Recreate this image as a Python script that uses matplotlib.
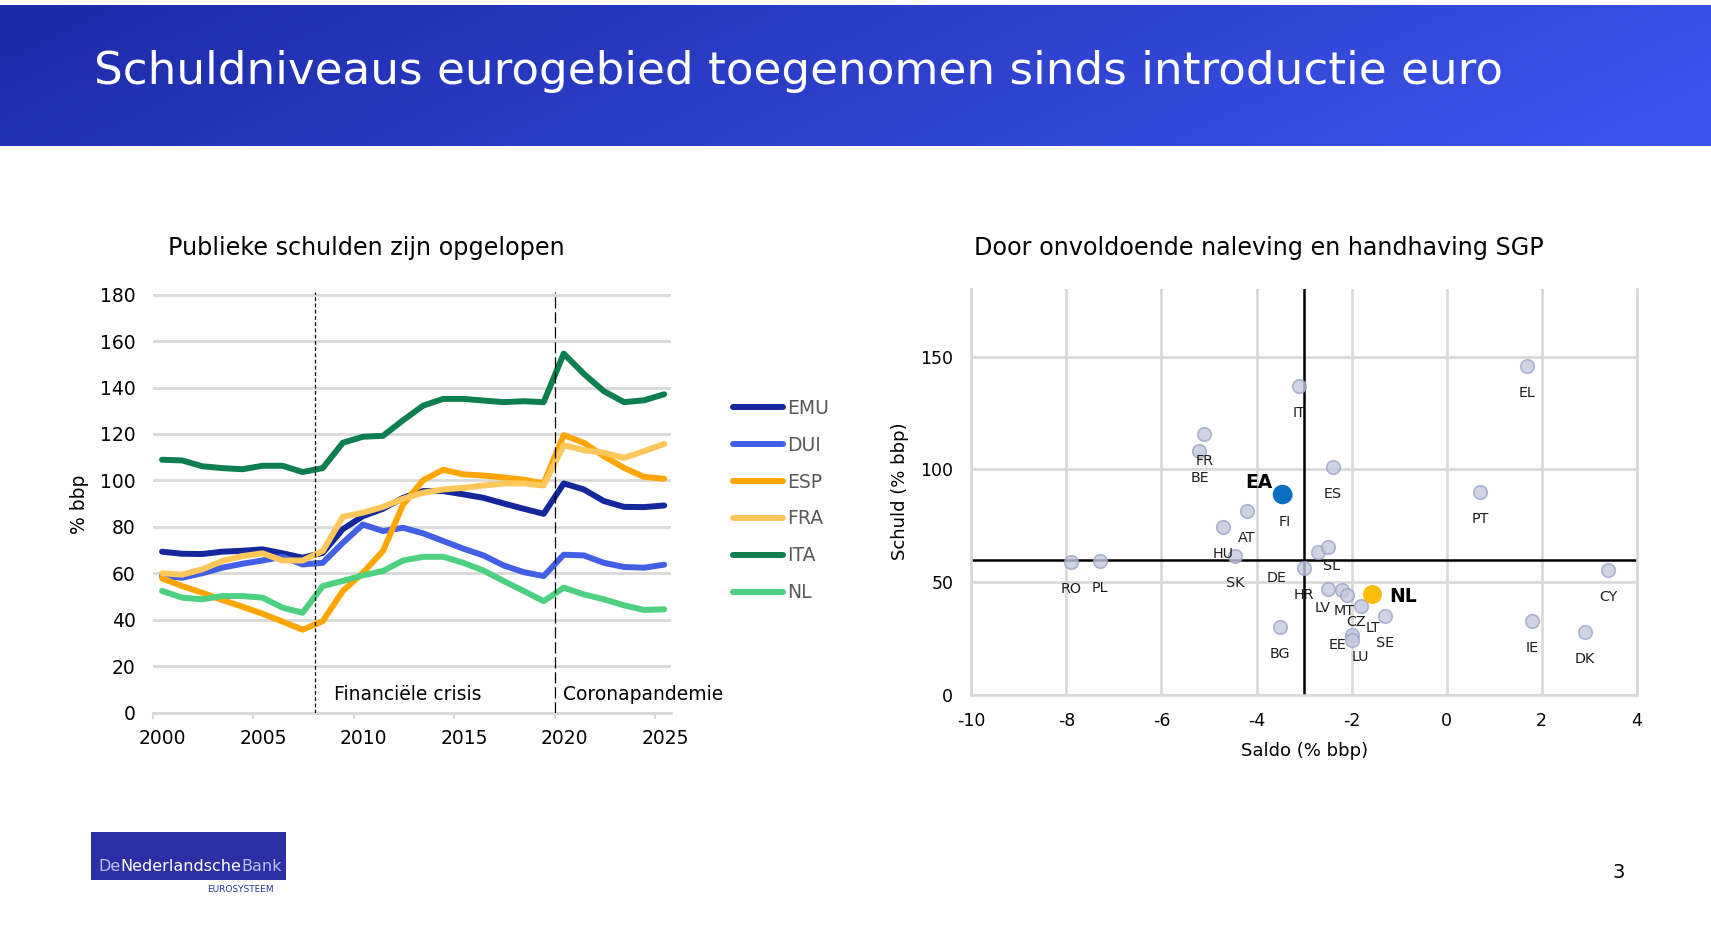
import numpy as np
import matplotlib.pyplot as plt
from matplotlib.colors import LinearSegmentedColormap
from matplotlib.transforms import ScaledTranslation

# ---- data: public debt (% bbp), 2000-2025
jaren = list(range(2000, 2026))
emu = [69.3, 68.4, 68.3, 69.3, 69.7, 70.3, 68.6, 66.7, 68.8, 79.0, 84.6, 87.8, 92.5,
       95.4, 95.4, 94.0, 92.5, 90.1, 87.8, 85.6, 98.7, 96.1, 91.1, 88.6, 88.5, 89.2]
dui = [58.8, 58.1, 60.0, 62.4, 64.1, 65.5, 67.1, 63.8, 64.5, 73.1, 81.0, 78.2, 79.6,
       77.2, 73.9, 70.6, 67.7, 63.4, 60.5, 58.8, 68.0, 67.7, 64.5, 62.7, 62.4, 63.7]
esp = [57.8, 54.5, 51.6, 48.5, 45.6, 42.6, 39.2, 35.7, 39.4, 52.4, 60.2, 69.6, 89.6,
       100.1, 104.6, 102.6, 102.1, 101.3, 100.3, 98.7, 119.5, 116.2, 110.4, 105.4, 101.5, 100.7]
fra = [60.0, 59.4, 61.7, 65.3, 67.4, 68.6, 65.5, 65.5, 69.6, 84.3, 86.1, 88.6, 92.1,
       94.7, 96.1, 96.8, 97.8, 98.7, 98.7, 97.8, 115.2, 113.0, 111.9, 109.7, 112.6, 115.7]
ita = [108.9, 108.6, 106.1, 105.3, 104.8, 106.3, 106.3, 103.6, 105.3, 116.2, 118.8, 119.2, 125.9,
       132.2, 135.1, 135.1, 134.4, 133.7, 134.1, 133.7, 154.6, 145.9, 138.4, 133.7, 134.5, 137.1]
nl = [52.4, 49.5, 48.8, 50.2, 50.2, 49.5, 45.2, 43.0, 54.5, 56.7, 59.1, 61.0, 65.5,
      67.1, 67.1, 64.5, 61.2, 56.7, 52.4, 48.0, 53.8, 50.9, 48.8, 46.2, 44.2, 44.5]
reeksen = ['EMU', 'DUI', 'ESP', 'FRA', 'ITA', 'NL']
kleuren = ['#14289b', '#4260e6', '#ffa500', '#ffc65a', '#0c7e4f', '#4dd07f']
crisis_jaren = [2008.08, 2020.0]
crisis_labels = ['Financiële crisis', 'Coronapandemie']

# ---- data: saldo vs schuld per land
landen = ['RO', 'PL', 'FR', 'BE', 'HU', 'SK', 'AT', 'FI', 'IT', 'ES', 'DE', 'SL', 'HR',
          'LV', 'MT', 'CZ', 'LT', 'SE', 'EE', 'LU', 'BG', 'EL', 'PT', 'CY', 'IE', 'DK']
saldo = [-7.9, -7.3, -5.1, -5.2, -4.7, -4.45, -4.2, -3.4, -3.1, -2.4, -2.7, -2.5, -3.0,
         -2.5, -2.2, -2.1, -1.8, -1.3, -2.0, -2.0, -3.5, 1.7, 0.7, 3.4, 1.8, 2.9]
schuld = [59.1, 59.6, 115.7, 108.3, 74.7, 61.7, 81.6, 88.7, 137.1, 100.9, 63.6, 65.8, 56.5,
          46.9, 46.6, 44.4, 39.5, 35.2, 26.6, 24.4, 30.0, 146.0, 89.8, 55.2, 33.0, 28.0]
ea_punt = (-3.47, 89.2)
nl_punt = (-1.58, 44.7)
grens_saldo = -3
grens_schuld = 60

# label offsets (pixels) where the default "centred below" does not apply
label_offset = {'DE': (-42, -26), 'LV': (-5, -19), 'MT': (2, -21), 'CZ': (9, -27),
                'LT': (12, -22), 'EE': (-14, -10), 'LU': (9, -17), 'SL': (4, -19)}

plt.rcParams['font.family'] = 'DejaVu Sans'
plt.rcParams['axes.unicode_minus'] = False

W, H = 1711, 925
fig = plt.figure(figsize=(W / 100, H / 100), dpi=100)

# header band
hdr = fig.add_axes([0, 1 - 146 / H, 1, 141 / H])
grad = np.linspace(0, 1, 600)[None, :] * 0.85 + np.linspace(0, 0.15, 60)[:, None]
cmap = LinearSegmentedColormap.from_list('hdr', ['#1b2aa6', '#3d56ee'])
hdr.imshow(grad, aspect='auto', cmap=cmap, extent=[0, 1, 0, 1])
hdr.axis('off')
hdr.text(94 / W, 0.53, 'Schuldniveaus eurogebied toegenomen sinds introductie euro',
         color='white', fontsize=32.6, va='center', transform=hdr.transAxes)

# ---- left: line chart
ax1 = fig.add_axes([152.8 / W, 1 - 712.6 / H, 518.2 / W, 422.6 / H])
x = np.array(jaren) + 0.46
for naam, vals, kl in zip(reeksen, [emu, dui, esp, fra, ita, nl], kleuren):
    ax1.plot(x, vals, color=kl, lw=4.3, label=naam, solid_capstyle='round', zorder=3)

ax1.set_xlim(2000, 2025.8)
ax1.set_ylim(0, 182)
ax1.set_yticks(range(0, 181, 20))
ax1.set_xticks(range(2000, 2026, 5))
ax1.yaxis.grid(True, color='#d9d9d9', lw=2)
ax1.set_axisbelow(True)
for sp in ['top', 'right', 'left']:
    ax1.spines[sp].set_visible(False)
ax1.spines['bottom'].set_color('#d9d9d9')
ax1.spines['bottom'].set_linewidth(2)
ax1.tick_params(axis='y', length=0, pad=12.5, labelsize=13.5)
ax1.tick_params(axis='x', length=4, width=1.5, color='#d9d9d9', pad=8, labelsize=13.5)
for lbl in ax1.get_xticklabels():
    lbl.set_transform(lbl.get_transform() + ScaledTranslation(0.1, 0, fig.dpi_scale_trans))

for cx, lab, st in zip(crisis_jaren, crisis_labels, [(0, (3, 2)), (0, (9, 3))]):
    ax1.vlines(cx, 0, 181, color='black', lw=0.9, linestyles=[st], zorder=4)
    ax1.text(cx + 0.95 if cx < 2010 else cx + 0.43, 8, lab, fontsize=13.5, va='center')

ax1.legend(loc='upper left', bbox_to_anchor=(733 / W, 1 - 399 / H),
           bbox_transform=fig.transFigure, frameon=False, fontsize=13.5,
           handlelength=2.67, handletextpad=0.2, labelspacing=0.95,
           labelcolor='#595959', borderaxespad=0, borderpad=0)

fig.text(79.7 / W, 1 - 504 / H, '% bbp', rotation=90, fontsize=13.5, ha='center', va='center')
fig.text(168 / W, 1 - 248 / H, 'Publieke schulden zijn opgelopen', fontsize=17.2, va='center')

# ---- right: scatter
ax2 = fig.add_axes([971.3 / W, 1 - 695 / H, 665.5 / W, 406 / H])
ax2.set_xlim(-10, 4)
ax2.set_ylim(0, 180)
ax2.set_xticks(range(-10, 5, 2))
ax2.set_yticks([0, 50, 100, 150])
ax2.grid(True, color='#d9d9d9', lw=1.9)
ax2.set_axisbelow(True)
ax2.spines['top'].set_visible(False)
for sp in ['left', 'right', 'bottom']:
    ax2.spines[sp].set_color('#d9d9d9')
    ax2.spines[sp].set_linewidth(1.9)
ax2.tick_params(length=0, labelsize=12.5)
ax2.tick_params(axis='x', pad=12)
ax2.tick_params(axis='y', pad=13)
ax2.axvline(grens_saldo, color='black', lw=1.8, zorder=2)
ax2.axhline(grens_schuld, color='black', lw=1.8, zorder=2)

ax2.scatter(saldo, schuld, s=95, fc='#c3c9dd', ec='#9ca5c4', lw=1.2, alpha=0.8, zorder=3)
for land, sx, sy in zip(landen, saldo, schuld):
    dx, dy = label_offset.get(land, (0, -27))
    ax2.annotate(land, (sx, sy), xytext=(dx, dy), textcoords='offset pixels',
                 ha='center', va='center', fontsize=10.3, color='#1e1e1e', zorder=4)

ax2.scatter([ea_punt[0]], [ea_punt[1]], s=170, color='#0a6fc2', zorder=5)
ax2.annotate('EA', ea_punt, xytext=(-23, 11), textcoords='offset pixels', ha='center',
             va='center', fontsize=13.5, fontweight='bold')
ax2.scatter([nl_punt[0]], [nl_punt[1]], s=160, color='#fbbd0a', zorder=5)
ax2.annotate('NL', nl_punt, xytext=(18, -2), textcoords='offset pixels', ha='left',
             va='center', fontsize=13.5, fontweight='bold')

fig.text(974.5 / W, 1 - 248 / H, 'Door onvoldoende naleving en handhaving SGP', fontsize=17.2,
         va='center')
fig.text(1305 / W, 1 - 751 / H, 'Saldo (% bbp)', fontsize=13, ha='center', va='center')
fig.text(900 / W, 1 - 491 / H, 'Schuld (% bbp)', fontsize=13, rotation=90, ha='center',
         va='center')

# ---- logo + page number
lax = fig.add_axes([90.6 / W, 1 - 880 / H, 195.4 / W, 48.5 / H])
lax.set_facecolor('#2d2fa5')
lax.set_xticks([])
lax.set_yticks([])
for sp in lax.spines.values():
    sp.set_visible(False)
t1 = lax.text(0.04, 0.18, 'De', color='#b9c2f2', fontsize=11.5, transform=lax.transAxes)
t2 = lax.annotate('Nederlandsche', xy=(1, 0), xycoords=t1, color='white', fontsize=11.5,
                  va='bottom')
lax.annotate('Bank', xy=(1, 0), xycoords=t2, color='#b9c2f2', fontsize=11.5, va='bottom')
fig.text(207 / W, 1 - 889 / H, 'EUROSYSTEEM', fontsize=6.5, color='#2d2fa5', va='center')
fig.text(1619 / W, 1 - 872 / H, '3', fontsize=14, ha='center', va='center')

fig.savefig('out.png', dpi=100)
